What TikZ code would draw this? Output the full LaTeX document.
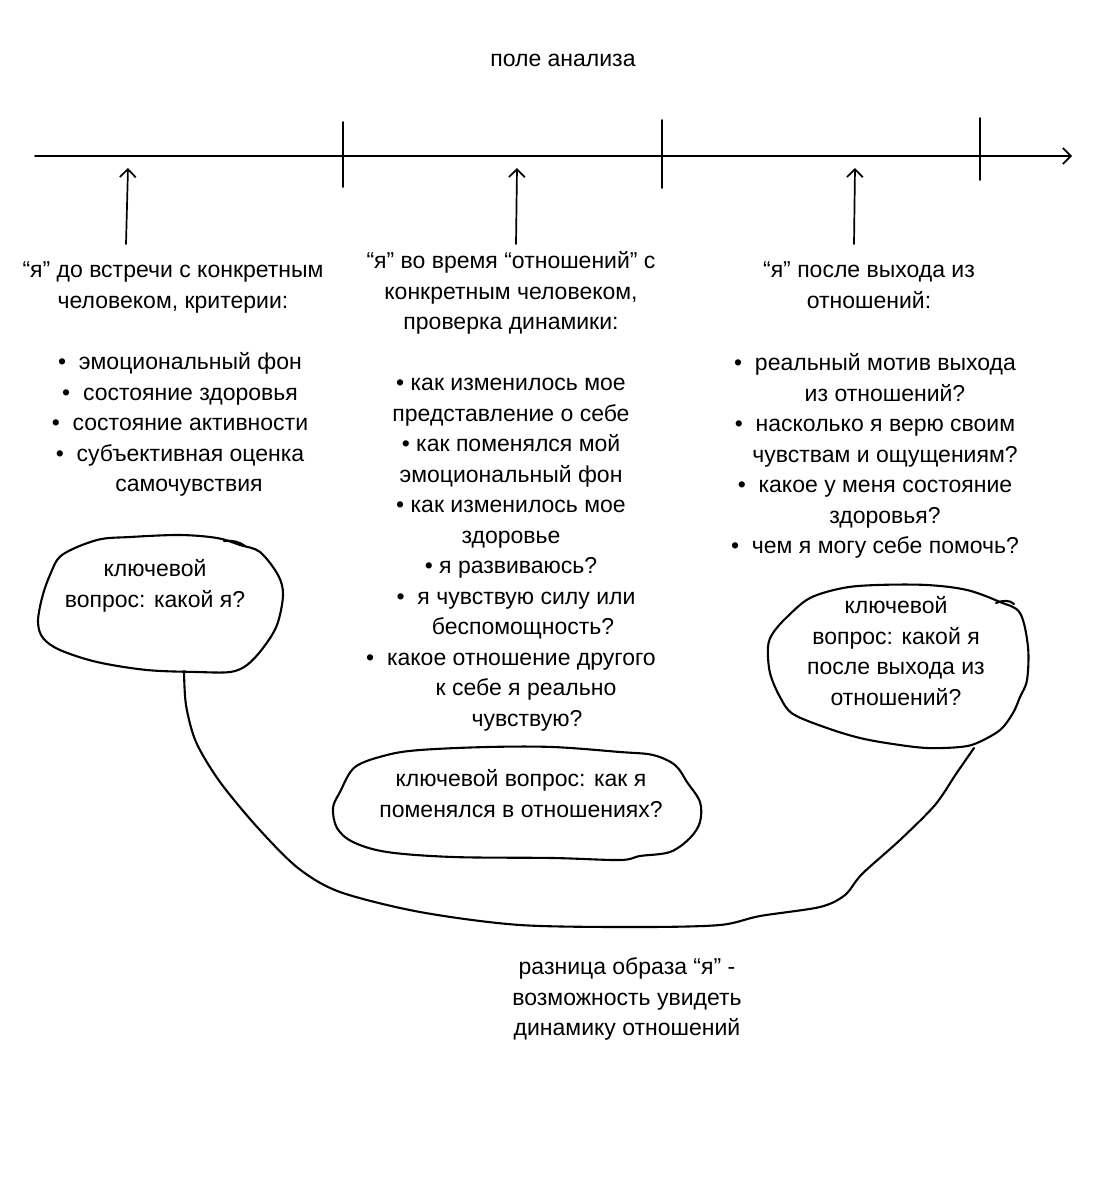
\documentclass[tikz,border=0pt]{standalone}
\usepackage{fontspec}
\setmainfont{Liberation Sans}
\usetikzlibrary{arrows.meta}
\newcommand{\fl}{\rule{0pt}{17pt}}
\begin{document}
\begin{tikzpicture}[x=1pt,y=-1pt, line width=1.7pt, line cap=round, line join=round,
  txt/.style={font=\fontsize{23}{30.5}\selectfont, align=center, inner sep=0pt, anchor=north},
  blob/.style={line width=2.1pt},
  tipped/.style={-{Straight Barb[length=8pt,width=16pt]}}]
\path[use as bounding box] (0,0) rectangle (1109,1200);

% timeline
\coordinate (t0) at (35,156);
\coordinate (t1) at (1072,156);
\draw[tipped] (t0) -- (t1);
\coordinate (k1a) at (343,122); \coordinate (k1b) at (343,187);
\coordinate (k2a) at (662,120); \coordinate (k2b) at (662,188);
\coordinate (k3a) at (980,118); \coordinate (k3b) at (980,180);
\draw (k1a) -- (k1b);
\draw (k2a) -- (k2b);
\draw (k3a) -- (k3b);

% upward arrows
\coordinate (a1s) at (126,244); \coordinate (a1e) at (128,168);
\coordinate (a2s) at (516,244); \coordinate (a2e) at (517,168);
\coordinate (a3s) at (854,244); \coordinate (a3e) at (855,168);
\draw[tipped] (a1s) -- (a1e);
\draw[tipped] (a2s) -- (a2e);
\draw[tipped] (a3s) -- (a3e);

% texts
\node[txt] (title) at (563,49) {\fl поле анализа};

\node[txt] (h1) at (173,260) {\fl “я” до встречи с конкретным\\человеком, критерии:};
\node[txt] (l1) at (180,352) {\fl•\ \ эмоциональный фон\\•\ \ состояние здоровья\\•\ \ состояние активности\\•\ \ субъективная оценка\\\hspace*{18pt}самочувствия};

\node[txt] (h2) at (511,251) {\fl “я” во время “отношений” с\\конкретным человеком,\\проверка динамики:};
\node[txt] (l2) at (511,373) {\fl• как изменилось мое\\представление о себе\\• как поменялся мой\\эмоциональный фон\\• как изменилось мое\\здоровье\\• я развиваюсь?\\\hspace*{10pt}•\ \ я чувствую силу или\\\hspace*{24pt}беспомощность?\\•\ \ какое отношение другого\\\hspace*{30pt}к себе я реально\\\hspace*{32pt}чувствую?};

\node[txt] (h3) at (869,260) {\fl “я” после выхода из\\отношений:};
\node[txt] (l3) at (875,353) {\fl•\ \ реальный мотив выхода\\\hspace*{20pt}из отношений?\\•\ \ насколько я верю своим\\\hspace*{20pt}чувствам и ощущениям?\\•\ \ какое у меня состояние\\\hspace*{20pt}здоровья?\\•\ \ чем я могу себе помочь?};

\node[txt] (bottom) at (627,957) {\fl разница образа “я” -\\возможность увидеть\\динамику отношений};

% blobs
\draw[blob] plot[smooth cycle, tension=0.55] coordinates {(62,555) (97,540) (130,537) (180,535) (217,538) (240,545) (260,552) (278,575) (283,595) (277,625) (263,648) (247,665) (230,672) (197,672) (147,670) (97,662) (60,650) (43,638) (38,622) (42,598) (50,575)};
\draw[blob] (224,541) .. controls (232,540) and (240,542) .. (245,546);
\node[txt] (q1) at (155,559) {\fl ключевой\\вопрос: какой я?};

\draw[blob] plot[smooth cycle, tension=0.55] coordinates {(355,767) (387,755) (420,750) (487,747) (553,747) (620,752) (653,755) (675,765) (687,782) (700,802) (700,822) (690,838) (670,852) (640,856) (620,860) (553,858) (453,857) (387,852) (353,842) (337,828) (333,808) (340,792)};
\node[txt] (q2) at (521,769) {\fl ключевой вопрос: как я\\поменялся в отношениях?};

\draw[blob] plot[smooth cycle, tension=0.55] coordinates {(810,598) (843,588) (877,585) (927,585) (967,590) (1000,602) (1020,613) (1028,647) (1027,680) (1020,697) (1013,713) (1000,730) (977,743) (960,747) (927,748) (893,744) (860,738) (827,728) (793,714) (780,697) (770,673) (768,647) (773,633) (787,617)};
\draw[blob] (996,603) .. controls (1003,600) and (1010,600) .. (1014,604);
\node[txt] (q3) at (896,596) {\fl ключевой\\вопрос: какой я\\после выхода из\\отношений?};

% connector between blobs
\coordinate (lbot) at (184,671);
\coordinate (rbot) at (974,748);
\draw[blob] plot[smooth, tension=0.5] coordinates {(lbot) (186,705) (196,742) (220,782) (258,828) (298,868) (340,892) (420,912) (520,925) (640,927) (720,925) (760,916) (820,907) (845,895) (862,874) (900,840) (935,805) (956,774) (rbot)};
\end{tikzpicture}
\end{document}
